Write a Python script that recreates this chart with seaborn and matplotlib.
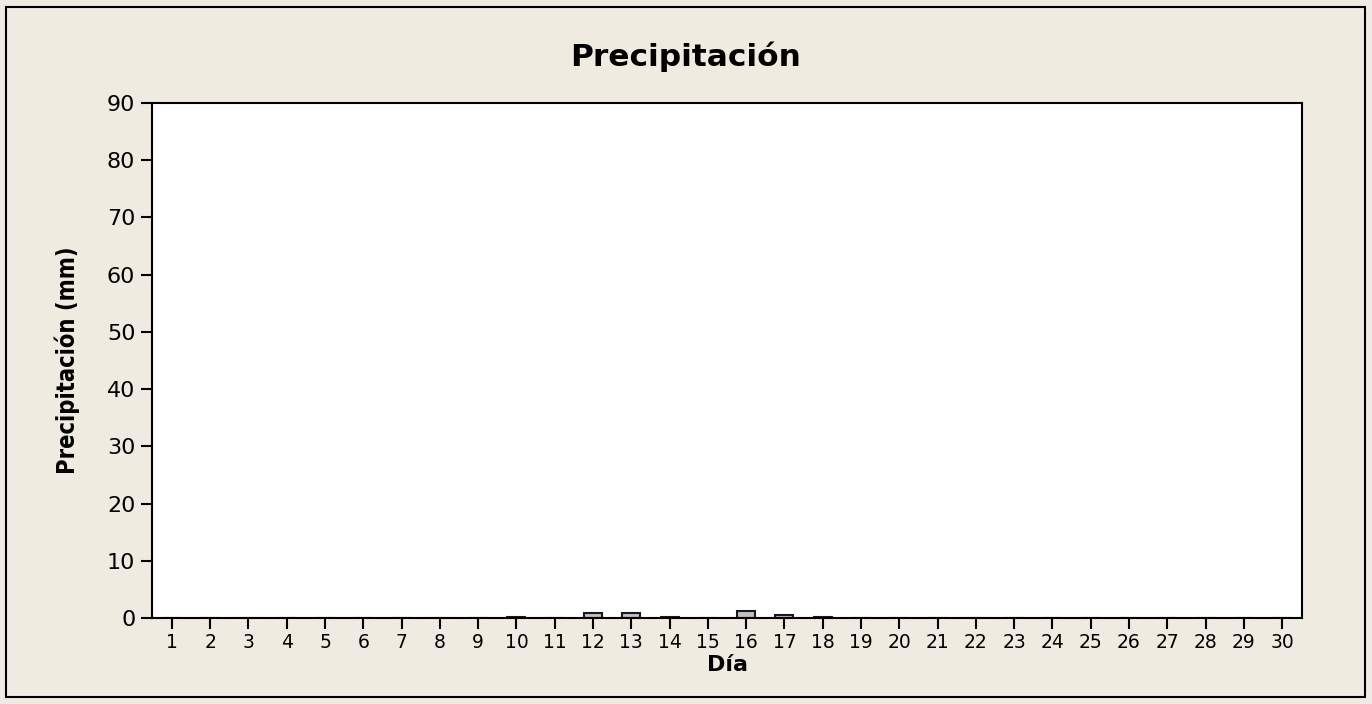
import numpy as np
import pandas as pd
import matplotlib
matplotlib.use("Agg")
import matplotlib.pyplot as plt
from matplotlib.patches import Rectangle
import seaborn as sns

# daily precipitation (mm)
dias = list(range(1, 31))
precip = [0, 0, 0, 0, 0, 0, 0, 0, 0, 0.2,
          0, 0.9, 0.9, 0.2, 0, 1.3, 0.6, 0.2, 0, 0,
          0, 0, 0, 0, 0, 0, 0, 0, 0, 0]
y_ticks = [0, 10, 20, 30, 40, 50, 60, 70, 80, 90]

df = pd.DataFrame({"dia": dias, "precip": precip})

sns.set_theme(style="white")
plt.rcParams["font.family"] = ["DejaVu Sans"]
plt.rcParams["text.color"] = "black"
plt.rcParams["xtick.color"] = "black"
plt.rcParams["ytick.color"] = "black"
plt.rcParams["axes.labelcolor"] = "black"

bg = "#EFEBE1"
fig = plt.figure(figsize=(13.72, 7.04), dpi=100, facecolor=bg)
ax = fig.add_axes([0.1108, 0.1222, 0.8382, 0.7315])
ax.set_facecolor("white")

sns.barplot(data=df, x="dia", y="precip", order=dias, color="#C0C0C0",
            edgecolor="#1a1a1a", linewidth=1.5, width=0.47, saturation=1, ax=ax)

ax.set_xlim(-0.52, 29.52)
ax.set_ylim(0, 90)
ax.set_yticks(y_ticks)
ax.set_yticklabels([str(t) for t in y_ticks], fontsize=16)
ax.set_xticks(range(len(dias)))
ax.set_xticklabels([str(d) for d in dias], fontsize=13.5)
ax.tick_params(axis="both", direction="out", length=8, width=1.5, color="black",
               left=True, bottom=True, pad=4)
ax.tick_params(axis="x", pad=3)
for s in ax.spines.values():
    s.set_visible(True)
    s.set_color("black")
    s.set_linewidth(1.5)

fig.text(0.5, 1 - 57 / 704, "Precipitación", fontsize=22.5, fontweight="bold",
         ha="center", va="center")
ax.set_xlabel("Día", fontsize=16, fontweight="bold", labelpad=2)
ax.set_ylabel("Precipitación (mm)", fontsize=17, fontweight="bold", labelpad=19,
              fontstretch="condensed")

fig.add_artist(Rectangle((6 / 1372, 7 / 704), 1359 / 1372, 690 / 704,
                         transform=fig.transFigure, fill=False,
                         edgecolor="black", linewidth=1.5))

fig.savefig("out.png", dpi=100, facecolor=bg)
